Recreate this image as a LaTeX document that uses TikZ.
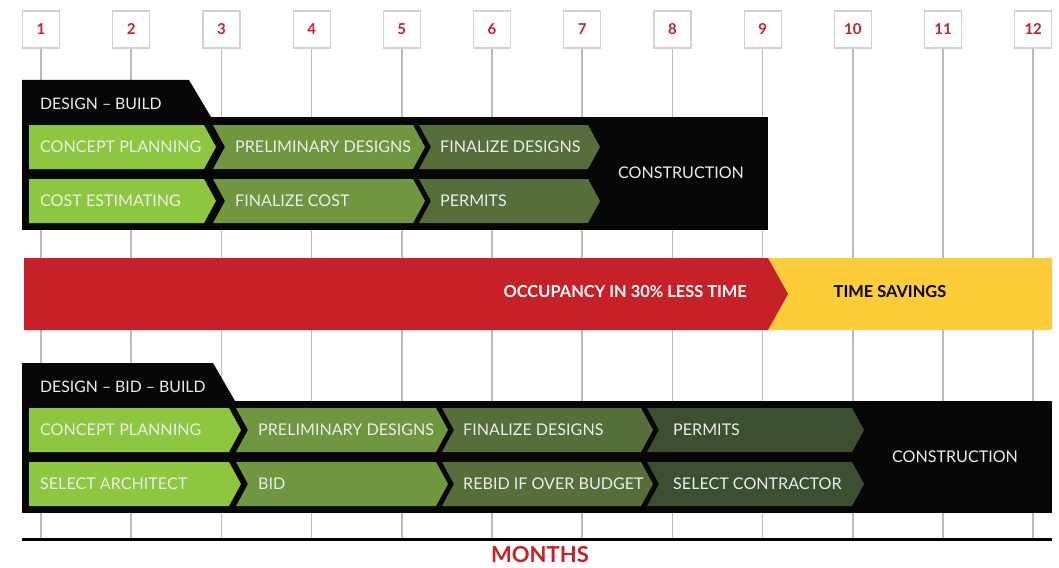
\documentclass[tikz,border=0pt]{standalone}
\usepackage{fontspec}
\setmainfont{Lato}
\usetikzlibrary{calc}
\definecolor{monthred}{HTML}{C62029}
\definecolor{boxgray}{HTML}{D2D2D2}
\definecolor{gridgray}{HTML}{BBBBBB}
\definecolor{lgreen}{HTML}{8DC63F}
\definecolor{mgreen}{HTML}{6F973F}
\definecolor{dgreen}{HTML}{566E3A}
\definecolor{xgreen}{HTML}{3D4F31}
\definecolor{barblack}{HTML}{060606}
\definecolor{saveyellow}{HTML}{FDCC38}
\tikzset{
  month/.style={draw=boxgray,line width=1.2pt,fill=white,minimum width=37pt,minimum height=37pt,
    text=monthred,font=\bfseries\fontsize{15}{15}\selectfont},
  gridline/.style={gridgray,line width=1.6pt},
  steptext/.style={anchor=west,inner sep=0pt,text=white!93!black,font=\fontsize{16.1}{16.1}\selectfont},
  tabtext/.style={anchor=west,inner sep=0pt,text=white!93!black,font=\fontsize{15.8}{15.8}\selectfont},
  bartext/.style={inner sep=0pt,font=\bfseries\fontsize{16.4}{16.4}\selectfont}
}
% chevron: left, notch depth, right, top, bottom, colour
\newcommand{\chev}[6]{%
  \fill[#6] (#1,#4) -- (#3,#4) -- (#3+12,{(#4+#5)/2}) -- (#3,#5) -- (#1,#5)
    -- (#1+#2,{(#4+#5)/2}) -- cycle;}
\begin{document}
\begin{tikzpicture}[x=1pt,y=-1pt]
  \useasboundingbox (0,0) rectangle (1059,567);
  \coordinate (axisL) at (22,539);
  \coordinate (axisR) at (1052,539);
  % month boxes and grid lines
  \foreach \i in {1,...,12}{
    \node[month] (m\i) at ({41+90.2*(\i-1)},29.5) {\i};
    \draw[gridline] (m\i.south) -- (m\i.south |- axisL);
  }
  \draw[line width=3pt] (axisL) -- (axisR);
  \node[anchor=base,inner sep=0pt,text=monthred,font=\bfseries\fontsize{22}{22}\selectfont] (months) at (540,562) {MONTHS};

  % design - build
  \fill[barblack] (22,80) -- (189,80) -- (211,117) -- (22,117) -- cycle;
  \node[tabtext] (dbtab) at (40,104) {DESIGN -- BUILD};
  \fill[barblack] (22,117) rectangle (768,230);
  \foreach \t/\b in {125/169,179/223}{
    \chev{29}{0}{204}{\t}{\b}{lgreen}
    \chev{213}{12}{413}{\t}{\b}{mgreen}
    \chev{419}{12}{588}{\t}{\b}{dgreen}
  }
  \node[steptext] (db1) at (40,147) {CONCEPT PLANNING};
  \node[steptext] (db2) at (235,147) {PRELIMINARY DESIGNS};
  \node[steptext] (db3) at (440,147) {FINALIZE DESIGNS};
  \node[steptext] (db4) at (40,201) {COST ESTIMATING};
  \node[steptext] (db5) at (235,201) {FINALIZE COST};
  \node[steptext] (db6) at (440,201) {PERMITS};
  \node[steptext,anchor=center] (dbcon) at (681,173) {CONSTRUCTION};

  % occupancy bar
  \fill[saveyellow] (768,258) rectangle (1052,330);
  \fill[monthred] (24,258) -- (768,258) -- (788,294) -- (768,330) -- (24,330) -- cycle;
  \node[bartext,anchor=east,text=white] (occ) at (747,292) {OCCUPANCY IN 30\% LESS TIME};
  \node[bartext,text=black] (save) at (890,292) {TIME SAVINGS};

  % design - bid - build
  \fill[barblack] (22,363) -- (213,363) -- (235,401) -- (22,401) -- cycle;
  \node[tabtext] (dbbtab) at (40,387) {DESIGN -- BID -- BUILD};
  \fill[barblack] (22,401) rectangle (1052,513);
  \foreach \t/\b in {408/452,462/506}{
    \chev{29}{0}{229}{\t}{\b}{lgreen}
    \chev{236}{12}{436}{\t}{\b}{mgreen}
    \chev{442}{12}{641}{\t}{\b}{dgreen}
    \chev{647}{12}{852}{\t}{\b}{xgreen}
  }
  \node[steptext] (dbb1) at (40,430) {CONCEPT PLANNING};
  \node[steptext] (dbb2) at (258,430) {PRELIMINARY DESIGNS};
  \node[steptext] (dbb3) at (463,430) {FINALIZE DESIGNS};
  \node[steptext] (dbb4) at (673,430) {PERMITS};
  \node[steptext] (dbb5) at (40,484) {SELECT ARCHITECT};
  \node[steptext] (dbb6) at (258,484) {BID};
  \node[steptext] (dbb7) at (463,484) {REBID IF OVER BUDGET};
  \node[steptext] (dbb8) at (673,484) {SELECT CONTRACTOR};
  \node[steptext,anchor=center] (dbbcon) at (955,457) {CONSTRUCTION};
\end{tikzpicture}
\end{document}
